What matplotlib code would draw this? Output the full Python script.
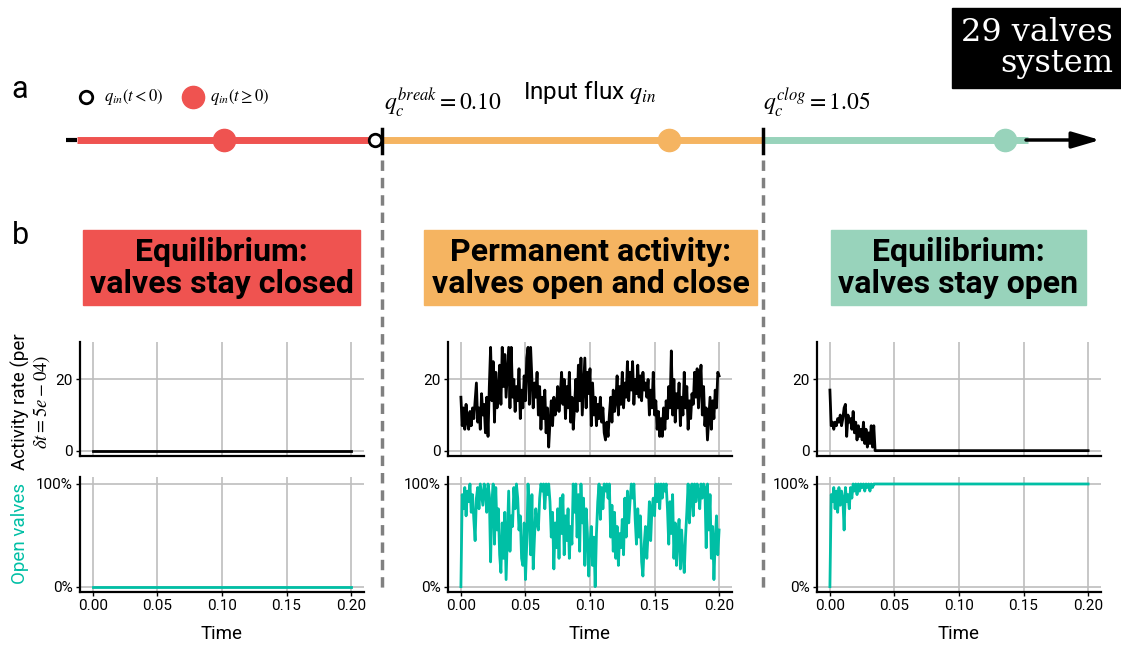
#!/usr/bin/env python
# -*- coding: utf-8 -*-

"""
Valve system figure: flux schematic (a) and time series of activity / open valves (b)
"""

import numpy as np
import matplotlib.pyplot as plt
from matplotlib.patches import Rectangle
from matplotlib.ticker import PercentFormatter

plt.rcParams['font.family'] = ['Roboto', 'DejaVu Sans']
plt.rcParams['mathtext.fontset'] = 'stix'

# ---- data -------------------------------------------------------------
n_valves = 29
dt = 0.001
t_end = 0.2
x_ticks = [0.00, 0.05, 0.10, 0.15, 0.20]

# middle panel: permanent activity (values per dt)
act_mid = [
    15, 7, 12, 6, 13, 8, 6, 11, 7, 12,
    9, 14, 19, 8, 12, 6, 16, 10, 13, 5,
    15, 4, 18, 29, 14, 25, 8, 22, 12, 17,
    24, 13, 29, 18, 27, 15, 22, 29, 12, 29,
    15, 20, 11, 18, 14, 23, 9, 17, 12, 21,
    14, 26, 29, 13, 29, 20, 12, 19, 15, 22,
    10, 18, 6, 15, 9, 17, 5, 12, 1, 8,
    14, 7, 15, 10, 12, 18, 11, 16, 22, 13,
    20, 9, 18, 12, 22, 8, 15, 6, 12, 20,
    11, 24, 14, 26, 10, 18, 26, 12, 22, 16,
    23, 7, 19, 10, 15, 7, 13, 9, 15, 8,
    12, 5, 3, 8, 4, 10, 15, 8, 17, 11,
    14, 21, 10, 18, 13, 22, 12, 19, 15, 25,
    14, 22, 17, 25, 13, 20, 16, 24, 15, 21,
    14, 22, 17, 19, 15, 20, 10, 17, 12, 22,
    10, 14, 6, 11, 4, 9, 4, 12, 6, 14,
    9, 18, 12, 28, 10, 20, 8, 16, 12, 19,
    7, 15, 10, 22, 12, 18, 6, 14, 9, 16,
    13, 22, 15, 23, 12, 19, 24, 10, 18, 7,
    12, 3, 9, 15, 6, 14, 9, 17, 12, 22,
    21,
]

# number of open valves (out of 29)
open_mid = [
    0, 26, 22, 28, 20, 27, 24, 29, 21, 26,
    19, 13, 25, 28, 22, 29, 26, 23, 29, 27,
    21, 29, 26, 7, 24, 29, 12, 28, 16, 22,
    9, 4, 18, 8, 21, 2, 15, 27, 10, 20,
    17, 28, 22, 29, 25, 16, 20, 8, 6, 18,
    2, 12, 29, 20, 9, 26, 5, 14, 22, 18,
    16, 25, 29, 27, 29, 22, 29, 26, 29, 24,
    14, 21, 5, 18, 11, 22, 8, 25, 15, 26,
    9, 20, 13, 22, 8, 17, 12, 29, 21, 29,
    14, 26, 10, 29, 18, 25, 6, 22, 15, 3,
    12, 17, 6, 14, 0, 15, 24, 29, 19, 28,
    22, 29, 27, 29, 25, 29, 14, 23, 10, 21,
    8, 17, 6, 15, 11, 19, 9, 25, 14, 27,
    18, 24, 29, 25, 29, 19, 12, 22, 14, 20,
    7, 3, 12, 17, 8, 15, 24, 13, 22, 25,
    20, 29, 24, 29, 22, 29, 25, 29, 27, 29,
    22, 12, 24, 15, 26, 8, 18, 6, 14, 19,
    5, 16, 9, 4, 14, 21, 29, 18, 26, 29,
    20, 29, 24, 29, 27, 22, 29, 25, 29, 28,
    11, 29, 16, 26, 8, 17, 2, 13, 20, 9,
    16,
]

# right panel: valves end up open
act_right = [
    17, 7, 8, 6, 8, 7, 9, 8, 10, 7,
    9, 12, 13, 4, 10, 8, 9, 6, 11, 5,
    8, 3, 7, 4, 6, 3, 8, 2, 6, 1,
    5, 2, 7, 1, 7, 0, 0,
]
open_right = [
    0, 26, 24, 28, 22, 27, 21, 28, 23, 27,
    25, 16, 28, 24, 26, 22, 28, 25, 29, 27,
    29, 26, 29, 27, 29, 28, 29, 27, 29, 28,
    29, 27, 29, 28, 29, 29, 29,
]

# left panel: everything stays closed
act_left = [0, 0]
open_left = [0, 0]

titles = [
    "Equilibrium:\nvalves stay closed",
    "Permanent activity:\nvalves open and close",
    "Equilibrium:\nvalves stay open",
]
colors = ['#EF5350', '#F5B461', '#98D3BB']
teal = '#00BFA5'


def series_time(values):
    t = list(np.round(np.arange(len(values)) * dt, 4))
    return t


t_mid = series_time(act_mid)
t_right = series_time(act_right[:-1]) + [t_end]
t_left = [0.0, t_end]

activity = [(t_left, act_left), (t_mid, act_mid), (t_right, act_right)]
opened = [(t_left, open_left), (t_mid, open_mid), (t_right, open_right)]

# ---- figure -----------------------------------------------------------
W, H = 1121, 648
fig = plt.figure(figsize=(W / 100, H / 100), dpi=100)


def px_axes(x0, y0, x1, y1):
    return fig.add_axes([x0 / W, 1 - y1 / H, (x1 - x0) / W, (y1 - y0) / H])


col_x = [80, 448, 817]
col_w = 284


def style(ax):
    ax.spines['top'].set_visible(False)
    ax.spines['right'].set_visible(False)
    ax.spines['left'].set_linewidth(1.6)
    ax.spines['bottom'].set_linewidth(1.6)
    ax.grid(True, color='#BEBEBE', lw=1.2)
    ax.set_axisbelow(True)
    ax.set_xlim(-0.01, 0.21)
    ax.set_xticks(x_ticks)
    ax.tick_params(direction='out', length=3, width=1, labelsize=11, pad=2)


for i in range(3):
    ax1 = px_axes(col_x[i], 342, col_x[i] + col_w, 456)
    style(ax1)
    t, v = activity[i]
    ax1.plot(t, v, color='black', lw=2)
    ax1.set_ylim(-1.5, 30.5)
    ax1.set_yticks([0, 20])
    ax1.tick_params(axis='x', labelbottom=False, length=0)

    ax2 = px_axes(col_x[i], 477, col_x[i] + col_w, 592)
    style(ax2)
    t, k = opened[i]
    ax2.plot(t, np.array(k) / n_valves, color=teal, lw=2)
    ax2.set_ylim(-0.052, 1.068)
    ax2.set_yticks([0, 1])
    ax2.yaxis.set_major_formatter(PercentFormatter(1.0, decimals=0))
    ax2.set_xticklabels(['%.2f' % x for x in x_ticks])
    ax2.set_xlabel('Time', fontsize=13.5, labelpad=9)

# ---- schematic and annotations (pixel coordinates overlay) ------------
ov = fig.add_axes([0, 0, 1, 1])
ov.set_xlim(0, W)
ov.set_ylim(H, 0)
ov.axis('off')
ov.patch.set_alpha(0)

line_y = 140
seg_edges = [77, 377, 763, 1028]
dot_x = [224, 669, 1005]
thresholds_x = [382, 763]

ov.plot([66, 77], [line_y, line_y], color='black', lw=3, solid_capstyle='butt')
for j in range(3):
    ov.plot(seg_edges[j:j + 2], [line_y, line_y], color=colors[j], lw=5,
            solid_capstyle='butt', zorder=2)
    ov.plot(dot_x[j], line_y, 'o', color=colors[j], ms=16, zorder=3)
ov.annotate('', xy=(1100, line_y), xytext=(1026, line_y),
            arrowprops=dict(arrowstyle='-|>,head_length=1.7,head_width=0.5',
                            color='black', lw=2.5, shrinkA=0, shrinkB=0))
ov.plot(375, line_y, 'o', mfc='white', mec='black', mew=2, ms=9, zorder=4)
for x in thresholds_x:
    ov.plot([x, x], [129, 153], color='black', lw=2.5, zorder=4)
    ov.plot([x, x], [160, 592], color='#808080', lw=2.5, ls=(0, (3, 2)))

# legend of the schematic
ov.plot(86, 97, 'o', mfc='white', mec='black', mew=2, ms=9)
ov.text(104, 97, r'$q_{in}(t<0)$', fontsize=12, va='center')
ov.plot(193, 97, 'o', color=colors[0], ms=16)
ov.text(210, 97, r'$q_{in}(t\geq0)$', fontsize=12, va='center')

ov.text(384, 103, r'$q_c^{break}=0.10$', fontsize=17, va='center')
ov.text(763, 103, r'$q_c^{clog}=1.05$', fontsize=17, va='center')
ov.text(590, 93, r'Input flux $q_{in}$', fontsize=17.5, ha='center', va='center')

ov.text(20, 90, 'a', fontsize=22, ha='center', va='center')
ov.text(20, 236, 'b', fontsize=22, ha='center', va='center')

# "29 valves system" tag
ov.add_patch(Rectangle((952, 8), W - 952, 80, color='black'))
ov.text(1113, 48, '%d valves\nsystem' % n_valves, color='white', fontsize=23,
        family='DejaVu Serif', ha='right', va='center', linespacing=1.0)

# regime title boxes
box_x = [(83, 360), (424, 757), (831, 1086)]
for j in range(3):
    x0, x1 = box_x[j]
    ov.add_patch(Rectangle((x0, 230), x1 - x0, 75, color=colors[j]))
    ov.text((x0 + x1) / 2, 268, titles[j], fontsize=23, fontweight='bold',
            ha='center', va='center', linespacing=1.05)

# y-axis titles
ov.text(20, 402, 'Activity rate (per', fontsize=13.5, rotation=90,
        ha='center', va='center')
ov.text(42, 402, r'$\delta t=5e-04)$', fontsize=13.5, rotation=90,
        ha='center', va='center')
ov.text(20, 533, 'Open valves', fontsize=13.5, rotation=90, color=teal,
        ha='center', va='center')

plt.savefig('out.png', dpi=100)
